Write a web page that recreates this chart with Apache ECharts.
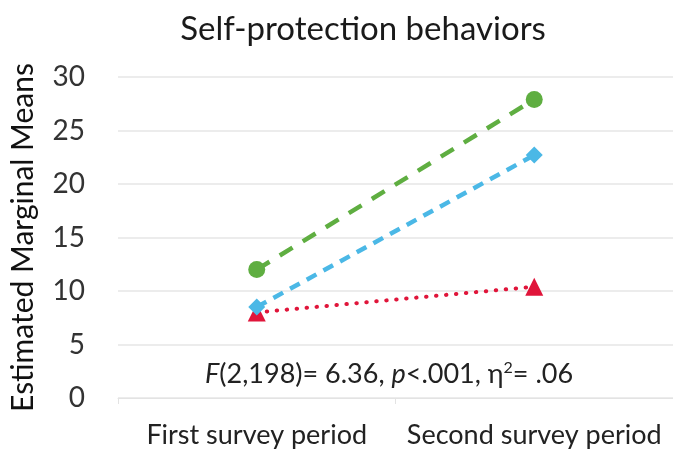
<!DOCTYPE html>
<html>
<head>
	<title>Self-protection behaviors</title>
	<script src="https://cdn.jsdelivr.net/npm/echarts@6/dist/echarts.min.js"></script>
</head>
<body style="margin:0">
	<div id="main" style="width:673px;height:455px"></div>
	<script type="text/javascript">
var categories = ['First survey period', 'Second survey period'];
var greenSeries = [12.0, 27.9];
var blueSeries = [8.5, 22.7];
var redSeries = [8.0, 10.4];
var yTicks = [0, 5, 10, 15, 20, 25, 30];

var FONT = 'Lato';
var myChart = echarts.init(document.getElementById('main'));

var option = {
    backgroundColor: '#fff',
    textStyle: { fontFamily: FONT },
    title: {
        text: 'Self-protection behaviors',
        left: 358,
        textAlign: 'center',
        top: 8,
        textStyle: { fontFamily: FONT, fontSize: 33, fontWeight: 'normal', color: '#1a1a1a' }
    },
    grid: { left: 116, width: 564, top: 77, bottom: 57 },
    xAxis: {
        type: 'category',
        data: categories,
        axisLine: { lineStyle: { color: '#e3e3e3' } },
        axisTick: { show: true, lineStyle: { color: '#e3e3e3' }, length: 6 },
        axisLabel: { fontFamily: FONT, fontSize: 27, color: '#222', margin: 24, interval: 0 }
    },
    yAxis: {
        type: 'value',
        min: yTicks[0],
        max: yTicks[yTicks.length - 1],
        interval: 5,
        name: 'Estimated Marginal Means',
        nameLocation: 'middle',
        nameGap: 80,
        nameTextStyle: { fontFamily: FONT, fontSize: 30, color: '#111' },
        axisLine: { show: false },
        axisTick: { show: false },
        axisLabel: { fontFamily: FONT, fontSize: 28, color: '#333', margin: 33 },
        splitLine: { lineStyle: { color: '#e6e6e6', width: 1.5 } }
    },
    graphic: [{
        type: 'text',
        left: 205,
        top: 360,
        style: {
            text: '{i|F}(2,198)= 6.36, {i|p}<.001, η{s|2}= .06',
            fontFamily: FONT,
            fontSize: 27,
            fill: '#222',
            rich: {
                i: { fontFamily: FONT, fontSize: 27, fontStyle: 'italic', fill: '#222' },
                s: { fontFamily: FONT, fontSize: 16, fill: '#222', verticalAlign: 'top', padding: [0, 0, 12, 0] }
            }
        }
    }],
    series: [{
        name: 'green',
        type: 'line',
        data: greenSeries,
        symbol: 'circle',
        symbolSize: 17,
        itemStyle: { color: '#5fae41' },
        lineStyle: { color: '#5fae41', width: 4.5, type: [15, 12] },
        z: 3
    }, {
        name: 'blue',
        type: 'line',
        data: blueSeries,
        symbol: 'diamond',
        symbolSize: 17,
        itemStyle: { color: '#4bb8e6' },
        lineStyle: { color: '#4bb8e6', width: 4.5, type: [11, 8] },
        z: 4
    }, {
        name: 'red',
        type: 'line',
        data: redSeries,
        symbol: 'triangle',
        symbolSize: 18,
        itemStyle: { color: '#e0153a' },
        lineStyle: { color: '#e0153a', width: 4, type: [0.5, 9.5], cap: 'round' },
        z: 2
    }]
};

myChart.setOption(option);
	</script>
</body>
</html>
